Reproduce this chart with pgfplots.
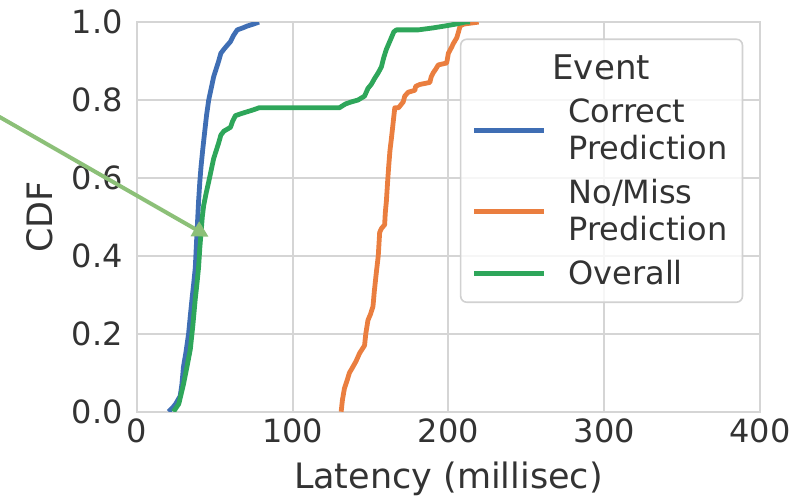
\documentclass[border=0pt]{standalone}
\usepackage{pgfplots}
\pgfplotsset{compat=1.18}
\usepackage{fontspec}
\setmainfont{DejaVu Sans}
\usetikzlibrary{arrows.meta}
\definecolor{cblue}{HTML}{3F6EB4}
\definecolor{corange}{HTML}{EA7E3F}
\definecolor{cgreen}{HTML}{2EA65A}
\definecolor{carrow}{HTML}{8CC078}
\definecolor{cgrid}{HTML}{D5D5D5}
\begin{document}
\begin{tikzpicture}
\begin{axis}[
  at={(0pt,0pt)}, anchor=south west,
  scale only axis, width=311.7pt, height=194.8pt,
  xmin=0, xmax=400, ymin=0, ymax=1,
  xtick={0,100,200,300,400},
  ytick={0,0.2,0.4,0.6,0.8,1.0},
  yticklabel style={/pgf/number format/fixed, /pgf/number format/fixed zerofill, /pgf/number format/precision=1, xshift=-3.5pt},
  /pgf/number format/assume math mode=true,
  tick label style={font=\fontsize{16}{19}\selectfont, text=black!80},
  major tick length=0pt,
  grid=major,
  grid style={cgrid, line width=1pt},
  axis line style={cgrid, line width=1pt},
  xlabel={Latency (millisec)},
  ylabel={CDF},
  label style={font=\fontsize{17.5}{21}\selectfont, text=black!80},
  xlabel style={at={(axis description cs:0.5,0)}, anchor=base, yshift=-38.3pt},
  ylabel style={at={(axis description cs:0,0.5)}, anchor=center, yshift=48.3pt},
  clip mode=individual,
  legend image code/.code={\draw[#1] (0pt,0pt) -- (35pt,0pt);},
  legend cell align=left,
  legend style={at={(axis description cs:0.973,0.958)}, anchor=north east,
    draw=black!18, line width=0.8pt, rounded corners=3pt,
    fill=white, fill opacity=0.8, text opacity=1,
    inner xsep=5.5pt, inner ysep=5.5pt, row sep=4.3pt,
    font=\fontsize{16}{18.5}\selectfont, text=black!80,
    cells={align=left},
    /tikz/every odd column/.append style={column sep=9pt}},
]
\addlegendimage{empty legend}
\addlegendentry{\hspace*{-8pt}{\fontsize{17}{20}\selectfont Event}\rule[-14.2pt]{0pt}{14.2pt}}

\addplot[cblue, line width=2.4pt, line join=round] coordinates {
(20.4,0) (23,0.01) (25,0.02) (27.9,0.04) (29,0.07) (30,0.115) (31.5,0.15)
(33.3,0.20) (34.5,0.25) (35.5,0.29) (36.6,0.33) (37.6,0.37) (38.2,0.42)
(38.7,0.46) (39.2,0.50) (39.7,0.54) (40.5,0.59) (41.3,0.63) (42.3,0.67)
(43.4,0.71) (44.8,0.76) (46.2,0.80) (47.8,0.83) (49.4,0.86) (51,0.88)
(52.6,0.90) (54,0.92) (55.9,0.93) (58,0.94) (60.2,0.95) (62,0.965)
(64.5,0.98) (68,0.985) (71,0.99) (75,0.995) (78.5,1.0)};
\addlegendentry{Correct\\Prediction}

\addplot[corange, line width=2.4pt, line join=round] coordinates {
(131.2,0.0) (132,0.03) (133.3,0.06) (135,0.08) (136.5,0.10) (138,0.11)
(140.8,0.13) (143,0.15) (146.2,0.17) (147,0.20) (148.4,0.235) (150,0.25)
(151.6,0.27) (152.5,0.31) (153.7,0.355) (155,0.40) (155.9,0.46) (157,0.47)
(159.1,0.48) (159.5,0.51) (160.2,0.54) (161,0.59) (161.7,0.63) (162.5,0.67)
(163.4,0.70) (164.5,0.74) (165.6,0.78) (168,0.78) (171,0.795) (172,0.81)
(174.2,0.82) (178.5,0.825) (179,0.835) (181.7,0.84) (188.1,0.845) (189,0.86)
(190.3,0.87) (192,0.88) (193.5,0.89) (198.9,0.895) (200,0.92) (202,0.935)
(203.2,0.945) (205.4,0.96) (206.5,0.975) (207.5,0.99) (210,0.995) (219.4,1.0)};
\addlegendentry{No/Miss\\Prediction}

\addplot[cgreen, line width=2.4pt, line join=round] coordinates {
(23.6,0) (27,0.02) (30,0.07) (32,0.11) (34.4,0.16) (36,0.22) (37.6,0.29)
(38.7,0.33) (39.7,0.37) (40.5,0.42) (41.3,0.46) (42.1,0.50) (43,0.53)
(44.5,0.56) (46.2,0.59) (47.8,0.62) (49.4,0.65) (51,0.67) (52.6,0.69)
(54,0.71) (55.9,0.72) (60.2,0.73) (61.5,0.745) (63.4,0.76) (67,0.765)
(71,0.77) (75,0.775) (78.5,0.78) (130,0.78) (134,0.79) (137.6,0.795)
(142,0.80) (146.2,0.81) (148.4,0.83) (150.5,0.84) (152.6,0.855) (155,0.87)
(157,0.885) (158.6,0.91) (160.2,0.93) (161.8,0.945) (163.4,0.96) (165,0.975)
(166.6,0.98) (180.6,0.98) (190,0.985) (197.8,0.99) (205,0.995) (210.7,1.0) (214,1.0)};
\addlegendentry{Overall}

\draw[carrow, line width=2pt, -{Triangle[width=8pt,length=8pt]}]
  (axis cs:-88.2,0.757) -- (axis cs:46.2,0.449);
\end{axis}
\pgfresetboundingbox
\path[use as bounding box] (-68.35pt,-42.65pt) rectangle (333.65pt,205.85pt);
\end{tikzpicture}
\end{document}
